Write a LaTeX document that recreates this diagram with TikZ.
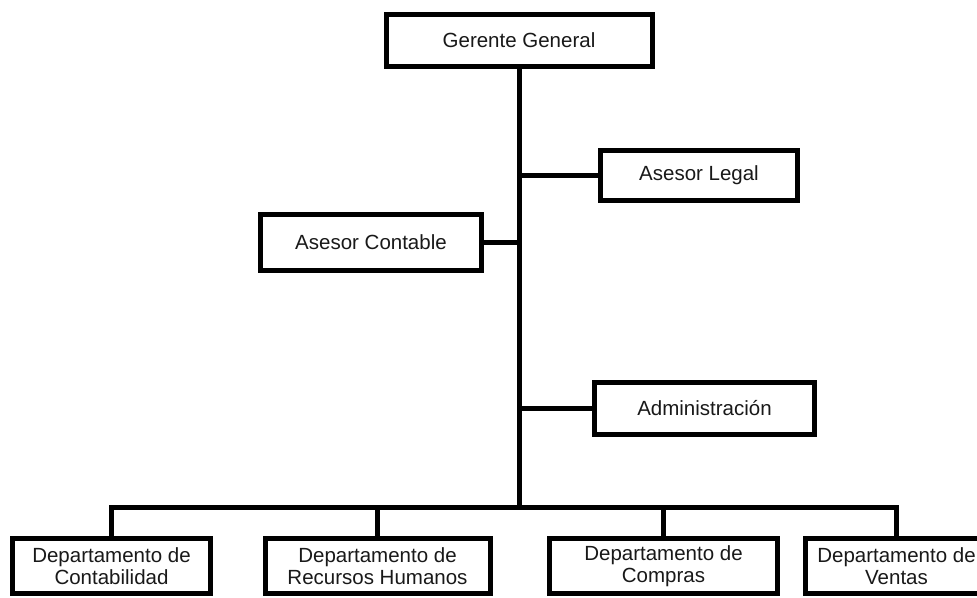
\documentclass[tikz,border=0pt]{standalone}
\usepackage{fontspec}
\setmainfont{Liberation Sans}
\begin{document}
\begin{tikzpicture}[x=1pt,y=-1pt,
  orgbox/.style={draw=black,fill=white,line width=5pt,inner sep=0pt,align=center,
    font=\fontsize{20.5}{22}\selectfont,text=black!90},
  link/.style={line width=5pt,line join=miter}]
\useasboundingbox (0,0) rectangle (977,597);
\clip (0,0) rectangle (977,597);
\node[orgbox,minimum width=266pt,minimum height=52pt] (gg) at (519,40.5) {Gerente General};
\node[orgbox,minimum width=197pt,minimum height=50pt] (al) at (699,175.5) {Asesor Legal};
\node[orgbox,minimum width=221pt,minimum height=56pt] (ac) at (371,242.5) {Asesor Contable};
\node[orgbox,minimum width=220pt,minimum height=52pt] (adm) at (704.5,408.5) {Administración};
\node[orgbox,minimum width=198pt,minimum height=55pt] (b1) at (111.5,566) {Departamento de\\Contabilidad};
\node[orgbox,minimum width=225pt,minimum height=55pt] (b2) at (377.5,566) {Departamento de\\Recursos Humanos};
\node[orgbox,minimum width=228pt,minimum height=55pt] (b3) at (663.5,566) {Departamento de\\Compras};
\node[orgbox,minimum width=182pt,minimum height=55pt] (b4) at (896.5,566) {Departamento de\\Ventas};
\coordinate (bus) at (519,507);
\draw[link] (al.west) -- (al.west -| gg.south);
\draw[link] (ac.east) -- (ac.east -| gg.south);
\draw[link] (adm.west) -- (adm.west -| gg.south);
\draw[link] (b1.north) |- (bus) -| (b4.north);
\draw[link] (b2.north) -- (b2.north |- bus);
\draw[link] (b3.north) -- (b3.north |- bus);
\draw[link] (gg.south) -- (bus);
\end{tikzpicture}
\end{document}
